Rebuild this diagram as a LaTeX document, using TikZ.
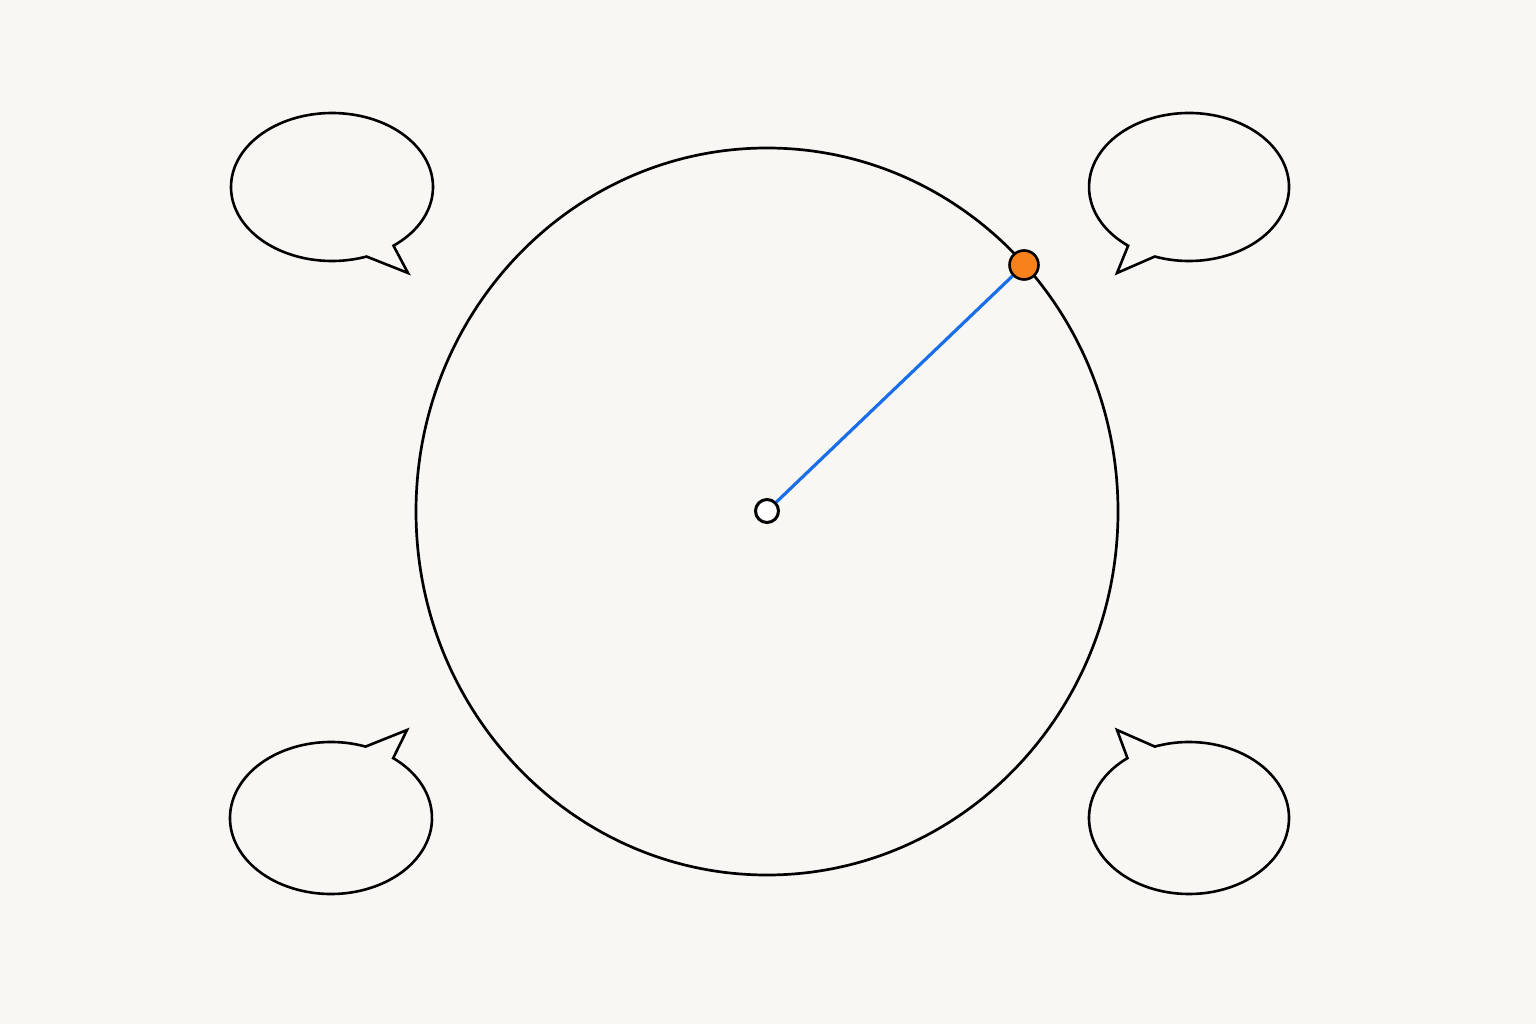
\documentclass[tikz,border=0pt]{standalone}
\begin{document}
\begin{tikzpicture}[x=0.5pt,y=0.5pt,
  bubble/.style={draw=black,line width=1.3pt,line join=miter},
  ring/.style={draw=black,line width=1.35pt},
  hub/.style={circle,draw=black,fill=white,line width=1.5pt,minimum size=11.5pt,inner sep=0pt},
  marker/.style={circle,draw=black,fill=markorange,line width=1.3pt,minimum size=14.5pt,inner sep=0pt},
  radius line/.style={draw=radblue,line width=1.6pt}]
\definecolor{bgc}{HTML}{F8F7F3}
\definecolor{markorange}{HTML}{F7821B}
\definecolor{radblue}{HTML}{1A6FE8}
\fill[bgc] (0,0) rectangle (1536,1024);
\useasboundingbox (0,0) rectangle (1536,1024);
% big circle
\draw[ring] (767,512.5) ellipse[x radius=351,y radius=363.5];
% speech bubbles
\draw[bubble] ([shift={(332,837)}]-52.5:101 and 74) arc[start angle=-52.5,end angle=290,x radius=101,y radius=74] -- (408,751) -- cycle;
\draw[bubble] ([shift={(1189,837)}]250:100 and 74) arc[start angle=250,end angle=592.5,x radius=100,y radius=74] -- (1117,751) -- cycle;
\draw[bubble] ([shift={(331,206)}]70:101 and 76) arc[start angle=70,end angle=412,x radius=101,y radius=76] -- (407,294) -- cycle;
\draw[bubble] ([shift={(1189,206)}]128:100 and 76) arc[start angle=128,end angle=470,x radius=100,y radius=76] -- (1117,294) -- cycle;
% center and marker
\node[hub] (c) at (767,513) {};
\node[marker] (o) at (1024,759) {};
\draw[radius line] (c) -- (o);
\end{tikzpicture}
\end{document}
